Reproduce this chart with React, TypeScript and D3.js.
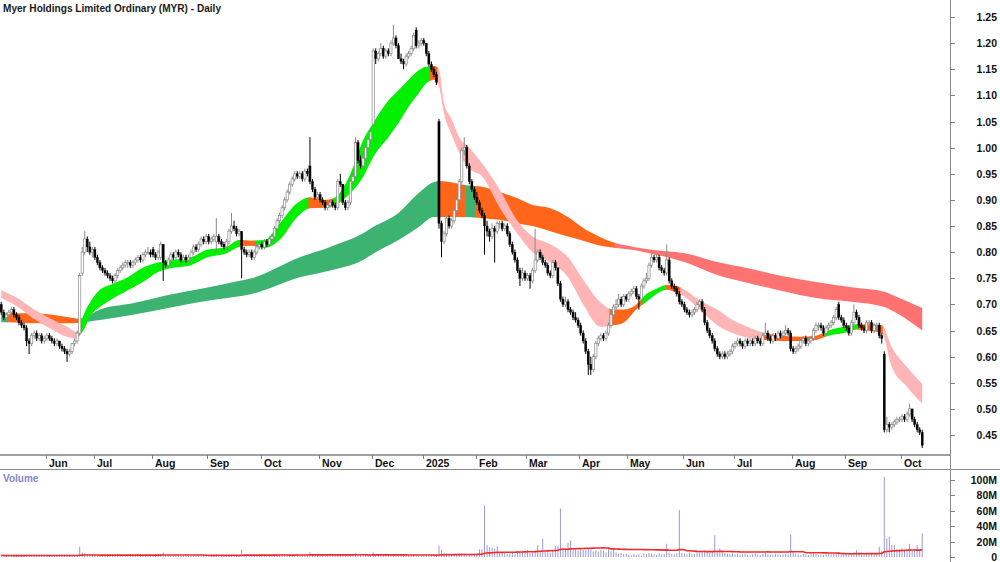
import React, { useEffect, useRef } from "react";
import * as d3 from "d3";

const title = "Myer Holdings Limited Ordinary (MYR) - Daily";

// month axis: label + index of first trading day
const monthLabels = ["Jun", "Jul", "Aug", "Sep", "Oct", "Nov", "Dec", "2025", "Feb", "Mar", "Apr", "May", "Jun", "Jul", "Aug", "Sep", "Oct"];
const monthStarts = [18, 37, 60, 82, 103, 126, 147, 167, 188, 208, 229, 248, 270, 290, 313, 334, 356];

const priceTicks = [45, 50, 55, 60, 65, 70, 75, 80, 85, 90, 95, 100, 105, 110, 115, 120, 125]; // cents
const volumeTicks = [0, 20, 40, 60, 80, 100]; // millions

// daily [open, high, low, close] in cents
const candles: number[][] = [
  // May 2024
  [70, 70.5, 68, 68.5], [68.5, 69, 67, 67.5], [67.5, 68.5, 67, 68], [68, 69, 67.5, 68.5], [68.5, 69.5, 68, 69], [69, 69.5, 67.5, 68],
  [68, 68.5, 67, 67.5], [67.5, 68, 66, 66.5], [66.5, 67, 65.5, 66], [66, 66.5, 65, 65.5], [65.5, 66, 62, 63], [63, 63.5, 60.5, 62.5],
  [62.5, 64.5, 62, 64], [64, 65, 63.5, 64.5], [64.5, 65, 63, 63.5], [63.5, 64.5, 63, 64], [64, 64.5, 62.5, 63], [63, 64, 62.5, 63.5],
  // Jun
  [63.5, 64.5, 63, 64], [64, 64.5, 63, 63.5], [63.5, 64, 62.5, 63], [63, 63.5, 62, 62.5], [62.5, 63.5, 62, 63], [63, 63, 61.5, 62],
  [62, 62.5, 61, 61.5], [61.5, 62, 60.5, 61], [61, 61.5, 59, 60.5], [60.5, 61.5, 60, 61], [61, 62.5, 60.5, 62.5], [62.5, 63.5, 62, 63],
  [63, 65, 62.5, 64.5], [64.5, 76, 64, 75.5], [76, 81, 75.5, 80], [80, 84, 79.5, 82.5], [82.5, 83, 80, 81], [81, 82, 79.5, 80],
  [80, 81, 79, 80.5],
  // Jul
  [80.5, 81, 78.5, 79], [79, 79.5, 77.5, 78], [78, 78.5, 76.5, 77], [77, 77.5, 76, 76.5], [76.5, 77, 75.5, 76], [76, 76.5, 75, 75.5],
  [75.5, 76, 74.5, 75], [75, 75.5, 74, 74.5], [74.5, 76, 74, 75.5], [75.5, 77, 75, 76.5], [76.5, 77.5, 76, 77], [77, 78, 76.5, 77.5],
  [77.5, 78.5, 77, 78], [78, 78.5, 77, 78], [78, 78.5, 77, 77.5], [77.5, 78.5, 77, 78], [78, 79, 77.5, 78.5], [78.5, 79.5, 78, 79],
  [79, 79.5, 78, 78.5], [78.5, 80, 78, 79.5], [79.5, 80.5, 79, 80], [80, 81, 79.5, 80], [80, 80.5, 79, 79.5],
  // Aug
  [80.5, 81, 79, 79.5], [79.5, 80, 78.5, 79], [79, 80.5, 78.5, 80], [79, 82, 78.5, 81.5], [81.5, 81.5, 74.5, 78], [78, 78.5, 77, 77.5],
  [77.5, 79, 77, 78.5], [78.5, 80, 78, 79.5], [79.5, 80, 78.5, 79], [79, 80.5, 78.5, 80], [80, 80.5, 79, 79.5], [79.5, 80, 78, 78.5],
  [78.5, 79.5, 78, 79], [79, 79.5, 78, 78.5], [78.5, 79.5, 78, 79], [79, 80.5, 78.5, 80], [80, 81.5, 79.5, 81], [81, 81.5, 80, 80.5],
  [80.5, 82, 80, 81.5], [81.5, 83, 81, 82.5], [82.5, 83, 81.5, 82], [82, 83.5, 81.5, 83],
  // Sep
  [83, 83.5, 81.5, 82], [82, 83, 81.5, 82.5], [82.5, 83.5, 82, 83], [82, 86.5, 80, 83], [83, 83.5, 81.5, 82], [82, 82.5, 81, 81.5],
  [81.5, 82, 80.5, 81], [81, 82.5, 80.5, 82], [82, 84.5, 81.5, 84], [84, 87.5, 83.5, 85], [85, 86, 84, 84.5], [84.5, 85, 83, 83.5],
  [83.5, 84.5, 83, 84], [84, 84, 75, 80.5], [80.5, 81, 79.5, 80], [80, 80.5, 79, 79.5], [79.5, 80.5, 79, 80], [80, 80.5, 78.5, 79],
  [79, 80.5, 78.5, 80], [80, 81.5, 79.5, 81], [81, 82, 80.5, 81.5],
  // Oct
  [81.5, 82, 80.5, 81], [81, 82.5, 80.5, 82], [82, 82.5, 81, 81.5], [81.5, 83, 81, 82.5], [82.5, 83.5, 82, 83], [83, 85, 82.5, 84.5],
  [84.5, 86.5, 84, 86], [86, 87.5, 85.5, 87], [87, 89, 86.5, 88.5], [88.5, 90.5, 88, 90], [90, 92, 89.5, 91.5], [91.5, 93.5, 91, 93],
  [93, 94.5, 92.5, 94], [94, 95.5, 93.5, 95], [95, 95.5, 94, 94.5], [94.5, 95.5, 94, 95], [95, 95.5, 93.5, 94], [94, 96, 93.5, 95.5],
  [95.5, 96, 94.5, 95], [96.5, 102, 93, 93.5], [93.5, 94, 91.5, 92], [92, 92.5, 90, 90.5], [90.5, 91.5, 89.5, 91],
  // Nov
  [91, 91.5, 89.5, 90], [90, 90.5, 89, 89.5], [89.5, 90, 88, 88.5], [88.5, 89.5, 88, 89], [89, 90, 88.5, 89.5], [89.5, 90, 88.5, 89],
  [89, 89.5, 88, 88.5], [88.5, 94, 88, 93.5], [93.5, 95, 92.5, 93], [93, 93, 89, 89.5], [89.5, 90, 88, 88.5], [88.5, 90, 88, 89.5],
  [89.5, 94, 89, 93.5], [93.5, 95, 93, 94.5], [94.5, 102, 94, 101], [101, 101.5, 97, 97.5], [97.5, 98.5, 96, 96.5], [96.5, 98.5, 96, 98],
  [98, 100.5, 97.5, 100], [100, 102, 99.5, 101.5], [101.5, 103.5, 101, 103],
  // Dec
  [104.5, 119, 104, 118.5], [118.5, 119, 116, 117], [117, 118.5, 116.5, 118], [118, 120, 117.5, 119], [119, 119.5, 117, 117.5],
  [117.5, 119, 117, 118.5], [118.5, 119, 117.5, 118], [118, 120.5, 117.5, 120], [120, 123.5, 119.5, 121], [121, 121.5, 119, 119.5],
  [119.5, 120, 117, 117], [117, 118, 116, 116.5], [116.5, 117, 115, 116], [116, 118, 115.5, 117.5], [117.5, 118.5, 117, 118],
  [118, 119.5, 117.5, 119], [119, 122, 118.5, 121.5], [122.5, 123, 119, 119.5], [119.5, 120.5, 119, 120], [120, 121, 119.5, 120.5],
  // Jan 2025
  [120.5, 121, 119.5, 120], [120, 120, 117.5, 118], [118, 118.5, 115.5, 116], [116, 116.5, 114.5, 115], [115, 115.5, 113.5, 114],
  [114, 114.5, 112, 112.5], [105, 105.5, 84.5, 85.5], [85.5, 86, 79, 82], [82, 84, 81.5, 83.5], [83.5, 87, 83, 86.5], [86.5, 87, 84.5, 85],
  [85, 86.5, 84.5, 86], [86, 88.5, 85.5, 88], [88, 90.5, 87.5, 90], [90, 94, 88, 93.5], [93.5, 100, 93, 99.5], [99.5, 102, 98.5, 100],
  [100, 100.5, 96, 96.5], [96.5, 97, 93, 93.5], [93.5, 94, 91.5, 92], [92, 92.5, 90, 90.5],
  // Feb
  [90.5, 91.5, 89, 89.5], [89.5, 90, 87.5, 88], [88, 88.5, 86.5, 87], [87, 87.5, 79.5, 85], [85, 86, 83, 84], [84, 84.5, 82, 83],
  [83, 85.5, 82.5, 84.5], [84.5, 85, 78, 84], [84, 86, 83.5, 85.5], [85.5, 86, 84.5, 85.5], [85.5, 86, 84, 84.5], [84.5, 85.5, 84, 85],
  [85, 85.5, 83, 83.5], [83.5, 84, 81, 81.5], [81.5, 82, 79.5, 80], [80, 80.5, 78, 78.5], [78.5, 79, 76, 76.5], [76.5, 77, 73.5, 75],
  [75, 77, 74.5, 76], [76, 76.5, 74.5, 75],
  // Mar
  [75, 76, 74.5, 75.5], [75.5, 76, 73, 74.5], [74.5, 77, 74, 76.5], [76.5, 84.5, 76, 78.5], [78.5, 80.5, 78, 80], [80, 80.5, 78.5, 79],
  [79, 79.5, 77.5, 78], [78, 78.5, 77, 77.5], [77.5, 78, 75.5, 76], [76, 76.5, 75, 75.5], [75.5, 78.5, 75, 78], [78, 78.5, 76.5, 77],
  [77, 77, 73.5, 74], [74, 74.5, 70.5, 71], [71, 71.5, 69.5, 70], [70, 71.5, 69.5, 70.5], [70.5, 71, 68.5, 69], [69, 69.5, 68, 68.5],
  [68.5, 69, 67, 67.5], [67.5, 68.5, 66.5, 67], [67, 67.5, 65.5, 66],
  // Apr
  [66, 66.5, 64, 64.5], [64.5, 65, 62.5, 63], [63, 63.5, 60.5, 61], [61, 61.5, 56.5, 58.5], [58.5, 60, 56.5, 57.5], [57.5, 60.5, 57, 60],
  [60, 63, 59.5, 62.5], [62.5, 64, 62, 63.5], [63.5, 64.5, 63, 64], [64, 64.5, 63, 63.5], [63.5, 65, 63, 64.5], [64.5, 66.5, 64, 66],
  [66, 69, 65.5, 68], [68, 70, 67.5, 69.5], [69.5, 71, 69, 70], [70, 72, 69.5, 71], [71, 71.5, 69.5, 70], [70, 72, 69.5, 71.5],
  [71.5, 72, 70.5, 71],
  // May
  [71, 72.5, 70.5, 72], [72, 73, 71.5, 72.5], [72.5, 73.5, 72, 73], [73, 73.5, 71, 71.5], [71.5, 72, 69, 71], [71, 74, 70.5, 73.5],
  [73.5, 75, 73, 74.5], [74.5, 76, 74, 75], [75, 78, 74.5, 77.5], [77.5, 80, 77, 79], [79, 79.5, 78, 78.5], [78.5, 79.5, 78, 79],
  [79, 79.5, 76.5, 77], [77, 77.5, 76, 76.5], [76.5, 77, 75.5, 76], [76, 81.5, 75.5, 78.5], [78.5, 79, 74, 74.5], [74.5, 75, 73, 73.5],
  [73.5, 74, 72.5, 73], [73, 73.5, 71.5, 72], [72, 72.5, 70, 70.5], [70.5, 71, 69.5, 70],
  // Jun
  [70, 70.5, 68.5, 69], [69, 69.5, 68, 68.5], [68.5, 69, 67.5, 68], [68, 69, 67.5, 68.5], [68.5, 69.5, 68, 69], [69, 70.5, 68.5, 70],
  [70, 71, 69.5, 70.5], [70.5, 71, 68.5, 69], [69, 69.5, 66, 66.5], [66.5, 67, 64.5, 65], [65, 65.5, 63.5, 64], [64, 64.5, 62.5, 63],
  [63, 63.5, 61, 61.5], [61.5, 62, 60, 60.5], [60.5, 61, 59.5, 60], [60, 61, 59.5, 60.5], [60.5, 61, 59.5, 60], [60, 61, 59.5, 60.5],
  [60.5, 61.5, 60, 61], [61, 62.5, 60.5, 62],
  // Jul
  [62, 63, 61.5, 62.5], [62.5, 63.5, 62, 63], [63, 63.5, 62, 62.5], [62.5, 63, 61.5, 62], [62, 63.5, 61.5, 63], [63, 63.5, 62, 62.5],
  [62.5, 63.5, 62, 63], [63, 63.5, 62, 62.5], [62.5, 64, 62, 63.5], [63.5, 64, 62.5, 63], [63, 63.5, 62, 62.5], [62.5, 64.5, 62, 64],
  [64, 66.5, 63.5, 64.5], [64.5, 65, 63, 63.5], [63.5, 64, 62.5, 63], [63, 64.5, 62.5, 64], [64, 64.5, 63, 63.5], [63.5, 65, 63, 64.5],
  [64.5, 65, 63.5, 64], [64, 65, 63.5, 64.5], [64.5, 66, 64, 65], [65, 65.5, 64, 64.5], [64.5, 65, 61, 61.5],
  // Aug
  [61.5, 62, 60.5, 61], [61, 62, 60.5, 61.5], [61.5, 62.5, 61, 62], [62, 63.5, 61.5, 63], [63, 64, 62.5, 63.5], [63.5, 64, 62, 62.5],
  [62.5, 63.5, 62, 63], [63, 64, 62.5, 63.5], [63.5, 65.5, 63, 65], [65, 66.5, 64.5, 66], [66, 66.5, 65, 66], [66, 66.5, 65, 65.5],
  [65.5, 66, 64, 64.5], [64.5, 66, 64, 65.5], [65.5, 66.5, 65, 66], [66, 67, 65.5, 66.5], [66.5, 68, 66, 67.5], [67.5, 69.5, 67, 69],
  [70, 70.5, 67, 67.5], [67.5, 68, 66.5, 67], [67, 67.5, 65.5, 66],
  // Sep
  [66, 66.5, 65, 65.5], [65.5, 66, 64, 64.5], [64.5, 67, 64, 66.5], [66.5, 70, 66, 68.5], [68.5, 69, 67, 67.5], [67.5, 68, 65.5, 66],
  [66, 66.5, 65, 65.5], [65.5, 66, 64.5, 65], [65, 67, 64.5, 66.5], [66.5, 67, 65.5, 66.5], [66.5, 67, 64.5, 65], [65, 66.5, 64.5, 66],
  [66, 66.5, 65, 66], [66, 66.5, 63.5, 64], [64, 64.5, 62.5, 63.5], [60.5, 61, 45.5, 46], [46, 48.5, 45.5, 47], [47, 47.5, 45.5, 46.5],
  [46.5, 47.5, 46, 47], [47, 48, 46.5, 47.5], [47.5, 48.5, 47, 48], [48, 48.5, 47.5, 48],
  // Oct
  [48, 49, 47.5, 48.5], [48.5, 49, 47.5, 48], [48, 49.5, 47.5, 49], [49, 51, 48.5, 50], [50, 50, 47.5, 48], [48, 48.5, 46.5, 47],
  [47, 47.5, 45.5, 46], [46, 46.5, 45, 45.5], [45.5, 46, 42.5, 43],
];

// daily volume, millions
const volumes: number[] = [
  2.1, 1.8, 1.5, 2.4, 1.9, 1.2, 1.6, 2.2, 1.7, 1.4, 2.8, 3.1, 2.0, 1.6, 1.3, 1.8, 1.5, 2.0,
  1.7, 1.4, 2.2, 1.9, 1.6, 2.5, 2.0, 1.8, 3.2, 2.1, 1.9, 2.4, 2.6, 13.5, 5.8, 4.6, 3.1, 2.4, 2.0,
  2.8, 2.2, 1.9, 2.5, 1.7, 2.1, 2.9, 1.8, 1.6, 2.3, 1.5, 1.9, 2.2, 1.4, 1.8, 2.0, 1.6, 2.4, 1.7, 1.5, 1.9, 2.6, 2.1,
  1.8, 2.3, 2.7, 3.4, 6.2, 2.9, 2.0, 1.7, 1.5, 2.2, 1.8, 1.4, 1.6, 2.1, 1.9, 1.5, 1.7, 2.4, 2.0, 1.6, 2.8, 2.3,
  1.9, 2.2, 2.6, 3.8, 2.1, 1.7, 1.5, 2.0, 2.4, 3.1, 2.6, 1.9, 2.2, 9.6, 4.2, 3.5, 2.4, 1.8, 2.1, 2.7, 2.3,
  1.8, 2.4, 2.0, 2.6, 2.2, 3.0, 2.5, 2.8, 3.3, 2.9, 3.1, 3.6, 2.7, 2.5, 4.2, 2.4, 2.1, 3.0, 2.6, 6.3, 3.2, 2.4, 3.0,
  2.2, 1.9, 2.5, 2.0, 1.7, 2.3, 1.8, 3.9, 2.6, 2.1, 1.9, 2.4, 2.8, 2.2, 4.6, 2.9, 2.3, 2.0, 2.5, 2.7, 3.1,
  6.1, 3.4, 2.6, 2.2, 2.0, 2.5, 1.8, 2.3, 3.0, 2.1, 1.9, 2.4, 1.7, 1.6, 2.0, 2.2, 2.8, 2.1, 1.5, 1.3,
  1.6, 1.9, 2.2, 2.5, 2.3, 2.8, 14.8, 9.1, 5.7, 5.3, 4.6, 3.9, 4.2, 3.6, 4.8, 5.1, 4.4, 3.8, 3.3, 4.0, 4.6,
  3.9, 9.8, 10.2, 67, 15.5, 13, 12.5, 11, 14, 4.8, 5.6, 6.4, 3.9, 4.5, 5.2, 3.6, 8.1, 6.2, 7.9, 5.1,
  9.2, 5.4, 6.1, 7.3, 15.6, 5.8, 24, 6.6, 7.2, 5.9, 8.4, 14.2, 14.6, 63, 12.6, 11.4, 18.2, 21.3, 12.1, 9.7, 8.3,
  10.4, 9.1, 8.6, 11.8, 10.9, 7.2, 8.5, 6.9, 9.3, 7.7, 5.8, 11.3, 7.4, 11.6, 6.1, 4.7, 5.3, 3.9, 4.4,
  3.1, 2.4, 4.2, 2.8, 3.6, 2.2, 4.5, 3.8, 5.1, 4.3, 3.5, 2.9, 4.8, 3.2, 3.9, 17.2, 5.6, 4.1, 3.4, 4.7, 61, 5.2,
  4.6, 3.8, 5.5, 4.2, 3.6, 5.9, 6.3, 7.1, 8.4, 6.6, 5.2, 7.8, 28.5, 8.2, 11.2, 6.4, 5.1, 4.4, 3.9, 4.8,
  3.4, 4.1, 2.9, 3.6, 4.4, 3.1, 2.7, 3.8, 4.6, 3.3, 2.6, 3.9, 5.2, 3.5, 2.8, 3.2, 4.1, 3.6, 2.9, 3.3, 4.2, 3.7, 29.2,
  6.1, 4.2, 3.3, 2.8, 3.9, 3.1, 2.6, 3.5, 4.4, 3.8, 2.9, 3.2, 2.7, 3.6, 4.1, 3.4, 3.8, 5.3, 4.6, 3.5, 2.9,
  3.3, 3.8, 4.6, 5.9, 9.1, 4.2, 3.5, 3.1, 4.4, 3.7, 4.9, 3.6, 5.4, 13.2, 7.6, 104, 24.2, 26.4, 15.8, 15.3, 10.3, 9.8,
  11.4, 8.6, 9.2, 17.1, 8.1, 10.5, 15.6, 9.4, 30.7,
];

// short-term trend ribbon: [day, upper, lower] in cents
const shortRibbon = [
  [0, 72.7, 71.2], [6, 71.3, 69.7], [13, 69, 67.2], [19, 67.4, 65.5], [26, 65.7, 63.8], [30, 64.7, 63.5], [31, 66, 64],
  [33, 68.5, 65.5], [35, 70.3, 67.6], [39, 72.8, 69.5], [43, 73.7, 70.8], [50, 75.2, 72.7], [56, 77, 74.3], [62, 78, 76.2],
  [68, 78.5, 77], [75, 79, 77.5], [81, 80.4, 78.9], [89, 81, 79.8], [94, 82.3, 81], [99, 82.2, 81.2], [104, 82.3, 80.8],
  [110, 85.5, 82.3], [117, 89.4, 86.7], [122, 90.5, 88.4], [128, 90, 88.5], [132, 90.5, 89], [138, 95, 91.3], [143, 101.4, 94.4],
  [147, 104.7, 98.2], [153, 109, 102], [157, 111, 104.7], [161, 113, 107.8], [165, 114.8, 110.4], [168, 115.5, 112.3],
  [171, 115.6, 113], [173, 115, 111.7], [175, 108.5, 106.5], [178, 105.5, 102.5], [181, 102, 99], [185, 100, 96], [190, 97, 94.5],
  [197, 92, 88.5], [204, 86, 83.5], [210, 83, 80], [217, 81.5, 78], [224, 79, 75.2], [230, 74.7, 70], [237, 70.3, 65.7],
  [242, 69, 66], [246, 69, 66.5], [251, 70, 69], [255, 72, 70.5], [259, 73, 72], [263, 73.7, 72.8], [267, 73.5, 72.2],
  [270, 72.8, 71.5], [276, 70.8, 69], [283, 69, 66], [289, 67, 64.5], [296, 65.5, 63.5], [302, 64.5, 63.2], [309, 64, 63],
  [316, 63.8, 63], [322, 64, 63.2], [327, 65, 64], [333, 65.7, 64.5], [338, 66.2, 65.2], [342, 66.2, 65], [348, 66, 64.5],
  [352, 61.8, 58], [358, 58, 54.2], [364, 54.8, 51],
];
const shortRuns: [number, number, string][] = [
  [0, 32, "pink"], [32, 95, "green"], [95, 101, "orange"], [101, 122, "green"], [122, 132, "orange"], [132, 170, "green"],
  [170, 173, "orange"], [173, 241, "pink"], [241, 254, "orange"], [254, 263, "green"], [263, 269, "orange"], [269, 302, "pink"],
  [302, 326, "orange"], [326, 339, "green"], [339, 349, "orange"], [349, 365, "pink"],
];

// long-term trend ribbon: [day, upper, lower] in cents
const longRibbon = [
  [0, 68, 66.6], [3, 68.3, 66.6], [13, 68.3, 66.4], [26, 67.6, 66.4], [31, 67.3, 66.5], [33, 67.5, 66.6], [39, 69, 67],
  [52, 70.2, 68], [66, 71.8, 69.3], [79, 73, 70.5], [92, 74.3, 71.4], [99, 75, 72], [118, 79, 75.2], [130, 81, 76.5],
  [143, 83.6, 78.5], [147, 84.8, 79.7], [157, 87.5, 82.3], [165, 91.3, 84.8], [171, 93.4, 86.7], [173, 93.6, 86.7],
  [184, 92.8, 86.7], [190, 92.5, 86.5], [197, 91.5, 86.2], [204, 90.3, 85.5], [210, 89, 85], [217, 88.4, 84], [224, 86.7, 83],
  [230, 84.6, 82.2], [237, 82.8, 81.2], [243, 81.7, 80.8], [250, 81, 80.4], [256, 80.5, 79.8], [270, 79.8, 78.1],
  [283, 78.1, 75.6], [296, 76.8, 74], [309, 75.4, 72.5], [322, 74.3, 71.2], [336, 73.3, 70.5], [349, 72.4, 69.5],
  [355, 71.2, 68], [364, 69.3, 65],
];
const longRuns: [number, number, string][] = [
  [0, 3, "dkgreen"], [3, 32, "orange"], [32, 173, "dkgreen"], [173, 184, "orange"], [184, 188, "dkgreen"],
  [188, 243, "orange"], [243, 365, "red"],
];

const ribbonColours: Record<string, string> = {
  pink: "#ffb5b5",
  green: "#00f000",
  orange: "#ff661a",
  dkgreen: "#3cb371",
  red: "#ff7272",
};

const font = "'Liberation Sans', Arial, sans-serif";

const App = () => {
  const ref = useRef<SVGSVGElement>(null);

  useEffect(() => {
    const svg = d3.select(ref.current);
    svg.selectAll("*").remove();

    const xDay = d3.scaleLinear().domain([0, candles.length]).range([0, 923.5]);
    const cx = (i: number) => xDay(i + 0.5);
    const yPrice = d3.scaleLinear().domain([45, 125]).range([435, 17]);
    const yVol = d3.scaleLinear().domain([0, 100]).range([557, 480]);

    const defs = svg.append("defs");

    // ribbons, coloured by clipping one smooth band per colour run
    const drawRibbon = (pts: number[][], runs: [number, number, string][], prefix: string) => {
      const area = d3
        .area<number[]>()
        .x((d) => cx(d[0]))
        .y0((d) => yPrice(d[2]))
        .y1((d) => yPrice(d[1]))
        .curve(d3.curveMonotoneX);
      const d = area(pts);
      runs.forEach(([a, b, key], k) => {
        const id = `${prefix}${k}`;
        defs
          .append("clipPath")
          .attr("id", id)
          .append("rect")
          .attr("x", xDay(a) - 0.3)
          .attr("y", 0)
          .attr("width", xDay(b) - xDay(a) + 0.6)
          .attr("height", 455);
        svg.append("path").attr("d", d).attr("fill", ribbonColours[key]).attr("clip-path", `url(#${id})`);
      });
    };
    drawRibbon(longRibbon, longRuns, "lr");
    drawRibbon(shortRibbon, shortRuns, "sr");

    // candles
    const cg = svg.append("g");
    candles.forEach(([o, h, l, c], i) => {
      const up = c >= o;
      const x = cx(i);
      const col = up ? "#8a8a8a" : "#000";
      cg.append("line")
        .attr("x1", x).attr("x2", x)
        .attr("y1", yPrice(h)).attr("y2", yPrice(l))
        .attr("stroke", col).attr("stroke-width", 1);
      const top = yPrice(Math.max(o, c));
      const bot = yPrice(Math.min(o, c));
      cg.append("rect")
        .attr("x", x - 1.1).attr("width", 2.2)
        .attr("y", top).attr("height", Math.max(bot - top, 0.8))
        .attr("fill", up ? "#fff" : "#000")
        .attr("stroke", col).attr("stroke-width", up ? 0.7 : 0.3);
    });

    // volume
    svg.append("g")
      .selectAll("rect")
      .data(volumes)
      .enter()
      .append("rect")
      .attr("x", (d, i) => cx(i) - 0.5)
      .attr("width", 1)
      .attr("y", (d) => yVol(d))
      .attr("height", (d) => 557 - yVol(d))
      .attr("fill", "#9a9ad8");

    const volAvg = volumes.map((v, i) => d3.mean(volumes.slice(Math.max(0, i - 49), i + 1)) as number);
    svg.append("path")
      .attr("d", d3.line<number>().x((d, i) => cx(i)).y((d) => yVol(d))(volAvg))
      .attr("fill", "none")
      .attr("stroke", "#f02a2a")
      .attr("stroke-width", 1.6);

    // frame lines
    svg.append("line").attr("x1", 0).attr("x2", 951).attr("y1", 455).attr("y2", 455).attr("stroke", "#a0a0a0").attr("stroke-width", 2);
    svg.append("line").attr("x1", 0).attr("x2", 1000).attr("y1", 469.5).attr("y2", 469.5).attr("stroke", "#8c8c8c").attr("stroke-width", 1);
    svg.append("line").attr("x1", 950.5).attr("x2", 950.5).attr("y1", 0).attr("y2", 562).attr("stroke", "#8c8c8c").attr("stroke-width", 1);

    // month axis
    const mg = svg.append("g");
    monthStarts.forEach((s, k) => {
      const x = Math.round(xDay(s)) + 0.5;
      mg.append("line").attr("x1", x).attr("x2", x).attr("y1", 455).attr("y2", 459).attr("stroke", "#808080");
      mg.append("text")
        .attr("x", x + 2.5).attr("y", 467)
        .attr("font-family", font).attr("font-weight", "bold").attr("font-size", 10.5).attr("fill", "#111")
        .text(monthLabels[k]);
    });

    // price axis
    const pg = svg.append("g");
    priceTicks.forEach((v) => {
      const y = Math.round(yPrice(v)) + 0.5;
      pg.append("line").attr("x1", 950).attr("x2", 955).attr("y1", y).attr("y2", y).attr("stroke", "#808080");
      pg.append("text")
        .attr("x", 997).attr("y", y + 3.8).attr("text-anchor", "end")
        .attr("font-family", font).attr("font-weight", "bold").attr("font-size", 10.5).attr("fill", "#111")
        .text(d3.format(".2f")(v / 100));
    });

    // volume axis
    volumeTicks.forEach((v) => {
      const y = Math.round(yVol(v)) + 0.5;
      pg.append("line").attr("x1", 950).attr("x2", 955).attr("y1", y).attr("y2", y).attr("stroke", "#808080");
      pg.append("text")
        .attr("x", 997).attr("y", y + 3.8).attr("text-anchor", "end")
        .attr("font-family", font).attr("font-weight", "bold").attr("font-size", 10.5).attr("fill", "#111")
        .text(v === 0 ? "0" : `${v}M`);
    });

    // titles
    svg.append("text")
      .attr("x", 3).attr("y", 12)
      .attr("font-family", font).attr("font-weight", "bold").attr("font-size", 11).attr("fill", "#1a1a1a")
      .attr("textLength", 218).attr("lengthAdjust", "spacingAndGlyphs")
      .text(title);
    svg.append("text")
      .attr("x", 3).attr("y", 482)
      .attr("font-family", font).attr("font-weight", "bold").attr("font-size", 10).attr("fill", "#8585c8")
      .text("Volume");
  }, []);

  return (
    <svg
      ref={ref}
      width={1000}
      height={562}
      style={{ position: "absolute", left: 0, top: 0, background: "#fff", display: "block" }}
    />
  );
};

export default App;
